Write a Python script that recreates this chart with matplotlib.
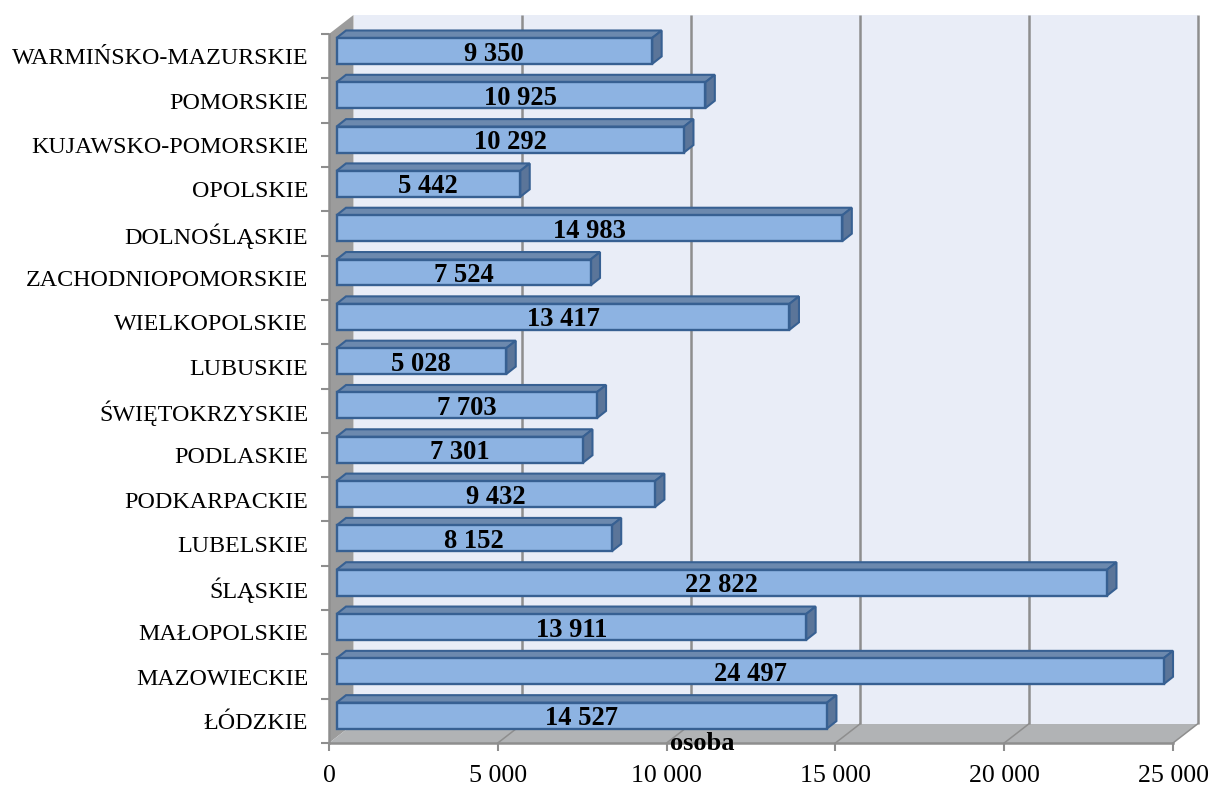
import matplotlib
matplotlib.use("Agg")
import matplotlib.pyplot as plt
from matplotlib.patches import Polygon

categories = ["ŁÓDZKIE", "MAZOWIECKIE", "MAŁOPOLSKIE", "ŚLĄSKIE", "LUBELSKIE", "PODKARPACKIE",
              "PODLASKIE", "ŚWIĘTOKRZYSKIE", "LUBUSKIE", "WIELKOPOLSKIE", "ZACHODNIOPOMORSKIE",
              "DOLNOŚLĄSKIE", "OPOLSKIE", "KUJAWSKO-POMORSKIE", "POMORSKIE", "WARMIŃSKO-MAZURSKIE"]
values = [14527, 24497, 13911, 22822, 8152, 9432, 7301, 7703, 5028, 13417, 7524, 14983, 5442,
          10292, 10925, 9350]
x_ticks = [0, 5000, 10000, 15000, 20000, 25000]
x_tick_labels = ["0", "5 000", "10 000", "15 000", "20 000", "25 000"]

W, H = 1212, 785
L, R, B, T = 329.0, 1173.0, 743.0, 34.0
plt.rcParams['font.family'] = ['Liberation Serif', 'DejaVu Serif']

fig = plt.figure(figsize=(W / 100, H / 100), dpi=100, facecolor="white")
ax = fig.add_axes([L / W, 1 - B / H, (R - L) / W, (B - T) / H])
ax.set_xlim(0, 25000)
ax.set_ylim(0, len(categories))
ax.patch.set_visible(False)

ux = 25000 / (R - L)          # value units per pixel
uy = len(categories) / (B - T)  # slots per pixel
DX, DY = 24.5 * ux, 19 * uy   # chart depth
XMAX, YMAX = 25000, len(categories)

GRID = "#8E8E8E"
ax.add_patch(Polygon([(DX, DY), (XMAX + DX, DY), (XMAX + DX, YMAX + DY), (DX, YMAX + DY)],
                     fc="#E9EDF7", ec="none", clip_on=False, zorder=1))
ax.add_patch(Polygon([(0, 0), (DX, DY), (DX, YMAX + DY), (0, YMAX)],
                     fc="#9C9C9C", ec="none", clip_on=False, zorder=1.1))
ax.add_patch(Polygon([(0, 0), (XMAX, 0), (XMAX + DX, DY), (DX, DY)],
                     fc="#B1B3B5", ec="none", clip_on=False, zorder=1.1))
for v in x_ticks[1:]:
    ax.plot([v + DX, v + DX], [DY, YMAX + DY], color=GRID, lw=1.8, clip_on=False, zorder=1.5,
            solid_capstyle="butt")
    ax.plot([v, v + DX], [0, DY], color=GRID, lw=1.1, clip_on=False, zorder=1.5)

# bars
BX0 = 7.5 * ux
BAR_B, BAR_H = 0.325, 0.585
bdx, bdy = 9.5 * ux, 7.5 * uy
EDGE = "#376092"
for i, v in enumerate(values):
    y0, y1 = i + BAR_B, i + BAR_B + BAR_H
    xe = BX0 + v
    ax.barh(y0, v, height=BAR_H, left=BX0, align="edge", color="#8DB3E2", edgecolor=EDGE,
            linewidth=1.7, zorder=3, clip_on=False)
    ax.add_patch(Polygon([(BX0, y1), (xe, y1), (xe + bdx, y1 + bdy), (BX0 + bdx, y1 + bdy)],
                         fc="#6C89AE", ec=EDGE, lw=1.5, zorder=2.8, clip_on=False))
    ax.add_patch(Polygon([(xe, y0), (xe + bdx, y0 + bdy), (xe + bdx, y1 + bdy), (xe, y1)],
                         fc="#5B7599", ec=EDGE, lw=1.5, zorder=2.8, clip_on=False))
    label = f"{v:,}".replace(",", " ")
    ax.text(BX0 + v / 2, y0 + BAR_H / 2 - 0.07, label, ha="center", va="center",
            fontsize=19.1, fontweight="bold", color="black", zorder=5, clip_on=False)

# axes
for s in ("top", "right"):
    ax.spines[s].set_visible(False)
for s in ("left", "bottom"):
    ax.spines[s].set_color(GRID)
    ax.spines[s].set_linewidth(1.8)
    ax.spines[s].set_zorder(2)
ax.set_xticks(x_ticks)
ax.set_xticklabels(x_tick_labels, fontsize=18.6, color="black")
ax.tick_params(axis="x", length=5.5, width=1.5, color=GRID, pad=10)
ax.set_yticks([i + 0.495 for i in range(len(categories))])
ax.set_yticklabels(categories, fontsize=17.3, color="black")
ax.tick_params(axis="y", which="major", length=0, pad=15)
ax.set_yticks(range(len(categories) + 1), minor=True)
ax.tick_params(axis="y", which="minor", length=5.5, width=1.5, color=GRID)

ax.text(0.4425, -0.001, "osoba", transform=ax.transAxes, ha="center", va="center", fontsize=19,
        fontweight="bold", zorder=6, clip_on=False)

fig.savefig("out.png", dpi=100, facecolor="white")
